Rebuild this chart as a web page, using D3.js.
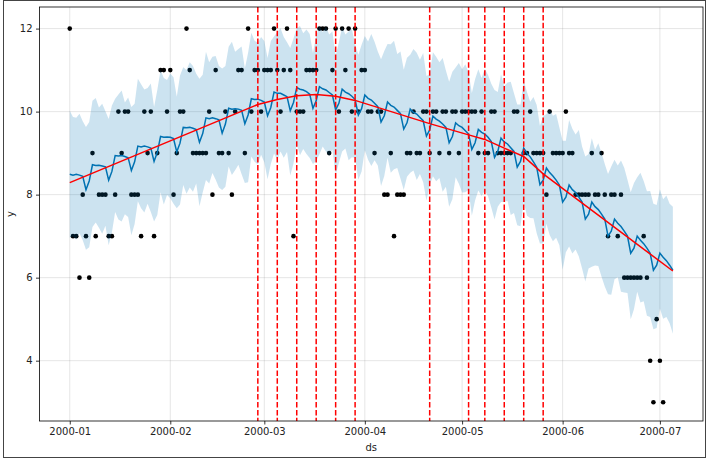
<!DOCTYPE html>
<html>
<head>
<meta charset="utf-8">
<script src="https://cdn.jsdelivr.net/npm/d3@7"></script>
<style>
  body { margin: 0; background: #fff; }
  svg { display: block; }
  text { font-family: "DejaVu Sans", sans-serif; fill: #222; }
</style>
</head>
<body>
<svg id="chart" width="707" height="458"></svg>
<script>
// observed daily values, 2000-01-01 .. 2000-07-02 (null = missing day)
const historyStart = '2000-01-01';
const historyEnd = '2000-07-03';
const historyY = [
  12,7,7,6,8,7,6,9,7,8, 8,8,7,7,8,10,9,10,10,8, 8,8,7,10,9,10,7,9,11,11,
  10,11,8,9,10,10,12,11,9,9, 9,9,9,10,8,11,9,9,10,9, 8,10,11,11,9,12,10,11,11,10,
  11,11,11,12,11,10,11,12,11,7, 10,10,10,11,11,11,11,12,12,12, 9,11,12,10,12,11,12,10,12,10,
  11,11,10,10,9,10,10,8,8,9, 7,8,8,8,9,9,10,9,9,10, 10,9,10,10,9,10,10,9,10,10,
  9,10,10,10,10,10,9,10,9,9, 10,10,9,9,9,9,9,10,10,null, 9,9,10,9,9,9,9,8,10,9,
  9,9,9,10,9,9,8,8,8,8, 8,9,8,8,9,8,7,8,8,7, 8,6,6,6,6,6,6,7,6,4,
  3,5,4,3
];

// forecast, 2000-01-01 .. 2000-07-05
const forecastEnd = '2000-07-06';
const yhat = [
  8.49,8.47,8.49,8.47,8.44,8.12,8.33,8.72,8.70,8.71, 8.69,8.67,8.35,8.56,8.94,8.93,8.94,8.92,8.89,8.58,
  8.79,9.17,9.15,9.17,9.15,9.12,8.80,9.02,9.40,9.38, 9.39,9.38,9.35,9.03,9.24,9.62,9.61,9.62,9.60,9.57,
  9.26,9.47,9.85,9.83,9.85,9.83,9.80,9.48,9.70,10.08, 10.06,10.07,10.06,10.03,9.71,9.92,10.31,10.29,10.30,10.27,
  10.23,9.90,10.10,10.47,10.44,10.44,10.40,10.36,10.02,10.22, 10.58,10.54,10.52,10.48,10.42,10.08,10.26,10.60,10.55,10.52,
  10.46,10.40,10.04,10.20,10.54,10.47,10.43,10.37,10.29,9.92, 10.07,10.40,10.32,10.28,10.20,10.12,9.75,9.90,10.23,10.15,
  10.11,10.03,9.95,9.58,9.73,10.06,9.98,9.94,9.86,9.78, 9.41,9.56,9.89,9.82,9.77,9.70,9.62,9.25,9.40,9.73,
  9.66,9.62,9.54,9.46,9.09,9.25,9.57,9.50,9.46,9.38, 9.28,8.90,9.04,9.36,9.27,9.22,9.13,9.04,8.66,8.80,
  9.12,9.00,8.91,8.79,8.66,8.24,8.35,8.64,8.53,8.45, 8.35,8.23,7.82,7.94,8.23,8.12,8.05,7.94,7.82,7.41,
  7.53,7.82,7.71,7.64,7.53,7.41,7.00,7.12,7.41,7.31, 7.23,7.12,7.00,6.59,6.71,7.00,6.90,6.82,6.71,6.59,
  6.18,6.30,6.59,6.49,6.41,6.30,6.18
];
const yhatUpper = [
  10.02,9.87,9.85,9.95,9.77,9.63,9.75,10.26,10.33,10.10, 10.19,10.01,9.82,10.15,10.31,10.41,10.51,10.22,10.34,10.11,
  10.19,10.79,10.66,10.53,10.57,10.68,10.11,10.52,11.00,10.81, 10.76,10.92,10.83,10.36,10.87,11.07,11.00,11.19,11.10,10.91,
  10.79,10.89,11.44,11.19,11.32,11.34,11.10,11.04,11.10,11.56, 11.68,11.44,11.51,11.57,11.04,11.42,11.90,11.71,11.66,11.80,
  11.70,11.29,11.70,11.81,11.92,12.01,11.80,11.67,11.53,11.76, 12.01,12.06,11.89,11.98,11.87,11.41,11.82,12.07,11.91,12.05,
  11.86,11.93,11.34,11.67,12.04,11.86,11.93,11.99,11.63,11.37, 11.61,11.82,11.69,11.87,11.68,11.45,11.26,11.46,11.63,11.62,
  11.71,11.39,11.45,11.01,11.30,11.37,11.51,11.42,11.25,11.41, 10.86,10.90,11.43,11.32,11.19,11.29,10.99,10.72,10.96,11.06,
  11.17,11.02,11.14,10.94,10.45,10.78,11.02,10.81,11.03,10.88, 10.67,10.52,10.47,10.90,10.61,10.70,10.72,10.44,10.17,10.17,
  10.75,10.47,10.24,10.35,10.16,9.66,9.89,9.94,10.06,9.90, 9.94,9.62,9.30,9.30,9.80,9.59,9.45,9.56,9.16,8.92,
  8.98,9.36,9.08,9.24,9.01,8.74,8.50,8.68,8.84,8.70, 8.82,8.65,8.36,8.06,8.28,8.42,8.53,8.33,8.08,8.09,
  7.78,7.75,8.13,7.89,7.98,7.78,7.71
];
const yhatLower = [
  6.96,6.99,6.92,7.07,6.90,6.67,6.73,7.22,7.33,7.20, 7.06,7.25,6.78,7.09,7.58,7.40,7.35,7.53,7.46,7.02,
  7.29,7.84,7.67,7.57,7.78,7.58,7.35,7.51,8.06,7.76, 7.99,7.91,7.78,7.67,7.76,8.23,8.02,8.17,8.07,8.27,
  7.72,8.05,8.35,8.27,8.52,8.36,8.17,8.11,8.19,8.68, 8.47,8.59,8.72,8.49,8.28,8.30,8.92,8.79,8.73,8.96,
  8.78,8.37,8.74,8.99,8.84,9.04,8.89,9.03,8.46,8.75, 9.21,8.95,9.10,8.98,8.88,8.74,8.81,8.97,9.16,9.04,
  8.93,9.09,8.47,8.77,9.04,9.11,8.83,8.90,8.89,8.36, 8.56,9.07,8.84,8.69,8.83,8.70,8.21,8.45,8.89,8.53,
  8.61,8.64,8.38,8.11,8.43,8.53,8.58,8.35,8.50,8.30, 7.85,8.23,8.44,8.32,8.40,8.07,8.19,7.71,7.89,8.42,
  8.26,8.05,8.06,8.12,7.49,7.86,8.10,7.97,8.10,7.96, 7.69,7.40,7.71,7.82,7.82,7.85,7.51,7.56,7.26,7.24,
  7.82,7.49,7.44,7.43,7.07,6.82,6.82,7.30,7.03,6.88, 6.96,6.78,6.19,6.61,6.75,6.58,6.68,6.51,6.22,5.91,
  6.22,6.26,6.29,6.28,6.02,5.79,5.60,5.59,5.96,6.01, 5.66,5.64,5.63,5.00,5.24,5.66,5.40,5.43,5.08,5.05,
  4.76,4.79,5.26,5.01,5.05,4.90,4.65
];

// piecewise linear trend, knots at the start, each changepoint and the end
const trendDates = ['2000-01-01','2000-02-28','2000-03-05','2000-03-11','2000-03-17','2000-03-23','2000-03-29',
  '2000-04-21','2000-05-03','2000-05-08','2000-05-14','2000-05-20','2000-05-26','2000-07-05'];
const trendValues = [8.29,10.17,10.29,10.38,10.41,10.37,10.27,9.71,9.44,9.33,9.12,8.92,8.50,6.16];
const changepoints = trendDates.slice(1, -1);

const yTicks = [4, 6, 8, 10, 12];
const xTicks = ['2000-01-01','2000-02-01','2000-03-01','2000-04-01','2000-05-01','2000-06-01','2000-07-01'];

function drawForecast() {
  const parse = d3.utcParse('%Y-%m-%d');
  const svg = d3.select('svg#chart');
  const left = 39.5, right = 703, top = 7, bottom = 421;

  const histDates = d3.utcDay.range(parse(historyStart), parse(historyEnd));
  const fcstDates = d3.utcDay.range(parse(historyStart), parse(forecastEnd));
  const points = histDates.map((d, i) => ({ds: d, y: historyY[i]})).filter((d) => d.y !== null);
  const fcst = fcstDates.map((d, i) => ({ds: d, yhat: yhat[i], lo: yhatLower[i], hi: yhatUpper[i]}));

  // 5% margin either side of the forecast range, like matplotlib
  const spanH = (fcstDates[fcstDates.length - 1] - fcstDates[0]) / 36e5;
  const x = d3.scaleUtc()
    .domain([d3.utcHour.offset(fcstDates[0], -0.05 * spanH), d3.utcHour.offset(fcstDates[fcstDates.length - 1], 0.05 * spanH)])
    .range([left, right]);
  const y = d3.scaleLinear().domain([2.547, 12.52]).range([bottom, top]);

  // outer frame of the figure
  svg.append('rect')
    .attr('x', 3.5).attr('y', 0.5).attr('width', 702).attr('height', 457)
    .attr('fill', 'none').attr('stroke', '#444').attr('stroke-width', 1);

  // grid
  const grid = svg.append('g').attr('stroke', '#808080').attr('stroke-opacity', 0.2).attr('stroke-width', 1);
  grid.selectAll('line.gx').data(xTicks).enter().append('line')
    .attr('x1', (d) => x(parse(d))).attr('x2', (d) => x(parse(d)))
    .attr('y1', top).attr('y2', bottom);
  grid.selectAll('line.gy').data(yTicks).enter().append('line')
    .attr('x1', left).attr('x2', right)
    .attr('y1', (d) => y(d)).attr('y2', (d) => y(d));

  // observed points
  svg.append('g').selectAll('circle').data(points).enter()
    .append('circle')
    .attr('cx', (d) => x(d.ds))
    .attr('cy', (d) => y(d.y))
    .attr('r', 2.3)
    .attr('fill', '#000');

  // forecast line and uncertainty band
  svg.append('path').datum(fcst)
    .attr('fill', 'none').attr('stroke', '#0072B2').attr('stroke-width', 1.5)
    .attr('d', d3.line().x((d) => x(d.ds)).y((d) => y(d.yhat)));
  svg.append('path').datum(fcst)
    .attr('fill', '#0072B2').attr('fill-opacity', 0.2)
    .attr('d', d3.area().x((d) => x(d.ds)).y0((d) => y(d.lo)).y1((d) => y(d.hi)));

  // trend and changepoints
  svg.append('path').datum(trendDates.map((d, i) => ({ds: parse(d), v: trendValues[i]})))
    .attr('fill', 'none').attr('stroke', 'red').attr('stroke-width', 1.5)
    .attr('d', d3.line().x((d) => x(d.ds)).y((d) => y(d.v)));
  svg.append('g').selectAll('line').data(changepoints).enter().append('line')
    .attr('x1', (d) => x(parse(d))).attr('x2', (d) => x(parse(d)))
    .attr('y1', top).attr('y2', bottom)
    .attr('stroke', 'red').attr('stroke-width', 1.5).attr('stroke-dasharray', '5.5,2.4');

  // spines
  svg.append('rect')
    .attr('x', left).attr('y', top).attr('width', right - left).attr('height', bottom - top)
    .attr('fill', 'none').attr('stroke', '#000').attr('stroke-width', 0.8);

  // axes
  const xAxis = svg.append('g').attr('transform', `translate(0,${bottom})`)
    .call(d3.axisBottom(x).tickValues(xTicks.map(parse)).tickFormat(d3.utcFormat('%Y-%m')).tickSize(3.5).tickPadding(3.5));
  const yAxis = svg.append('g').attr('transform', `translate(${left},0)`)
    .call(d3.axisLeft(y).tickValues(yTicks).tickFormat(d3.format('d')).tickSize(3.5).tickPadding(3.5));
  [xAxis, yAxis].forEach((g) => {
    g.select('.domain').remove();
    g.selectAll('.tick line').attr('stroke', '#000').attr('stroke-width', 0.8);
    g.selectAll('.tick text').attr('font-size', 10).attr('font-family', '"DejaVu Sans", sans-serif').attr('fill', '#222');
  });

  svg.append('text').attr('x', (left + right) / 2).attr('y', 450.5)
    .attr('text-anchor', 'middle').attr('font-size', 10).text('ds');
  svg.append('text').attr('transform', `translate(13.5,${(top + bottom) / 2}) rotate(-90)`)
    .attr('text-anchor', 'middle').attr('font-size', 10).text('y');
}

window.addEventListener('load', drawForecast);
</script>
</body>
</html>
